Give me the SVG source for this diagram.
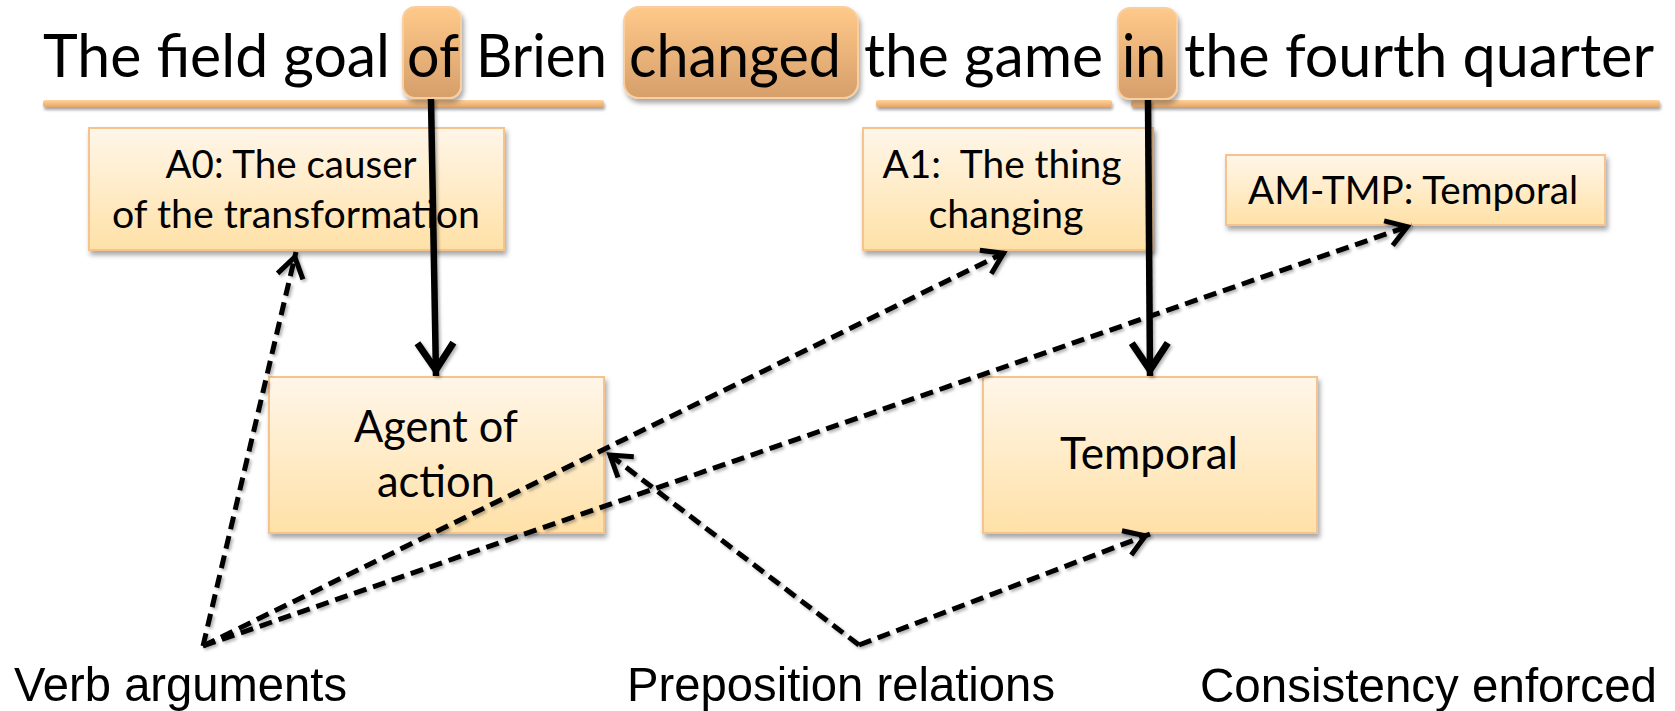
<svg xmlns="http://www.w3.org/2000/svg" width="1675" height="711" viewBox="0 0 1675 711">
  <style>
    .sent { font-family: Lato, "Open Sans", sans-serif; font-size: 60px; fill: #000; }
    .lbl { font-family: Lato, "Open Sans", sans-serif; font-size: 39px; fill: #000; }
    .big { font-family: Lato, "Open Sans", sans-serif; font-size: 44px; fill: #000; }
    .cap { font-family: "Liberation Sans", Arial, sans-serif; font-size: 49px; fill: #000; }
    .node { fill: url(#nodeFill); stroke: #F5C38E; stroke-width: 2; filter: url(#boxShadow); }
    .hl { fill: url(#hlFill); stroke: #F9CFA0; stroke-width: 2; filter: url(#boxShadow); }
    .bar { fill: url(#barFill); filter: url(#barShadow); }
    .solid { fill: none; stroke: #000; stroke-width: 6.5; marker-end: url(#solidHead); }
    .dash { fill: none; stroke: #000; stroke-width: 5; stroke-dasharray: 13 7; marker-end: url(#dashHead); }
  </style>
  <defs>
    <linearGradient id="nodeFill" x1="0" y1="0" x2="0" y2="1">
      <stop offset="0" stop-color="#FFF6E9"/>
      <stop offset="1" stop-color="#FFE1A7"/>
    </linearGradient>
    <linearGradient id="hlFill" x1="0" y1="0" x2="0" y2="1">
      <stop offset="0" stop-color="#FFC98A"/>
      <stop offset="1" stop-color="#D69F6B"/>
    </linearGradient>
    <linearGradient id="barFill" x1="0" y1="0" x2="0" y2="1">
      <stop offset="0" stop-color="#FFD39E"/>
      <stop offset="1" stop-color="#E8A666"/>
    </linearGradient>
    <filter id="boxShadow" x="-10%" y="-10%" width="125%" height="135%">
      <feDropShadow dx="2" dy="4" stdDeviation="2.5" flood-color="#000" flood-opacity="0.35"/>
    </filter>
    <filter id="barShadow" x="-5%" y="-100%" width="110%" height="400%">
      <feDropShadow dx="1" dy="3" stdDeviation="1.5" flood-color="#000" flood-opacity="0.35"/>
    </filter>
    <filter id="lineShadow" x="-10%" y="-10%" width="120%" height="120%">
      <feDropShadow dx="2" dy="2" stdDeviation="1.5" flood-color="#000" flood-opacity="0.3"/>
    </filter>
    <marker id="solidHead" markerUnits="userSpaceOnUse" orient="auto" markerWidth="80" markerHeight="80" viewBox="-40 -40 80 80" refX="0" refY="0" overflow="visible">
      <path d="M-33,-18 L-6,0 L-33,18" fill="none" stroke="#000" stroke-width="7" stroke-linejoin="miter"/>
    </marker>
    <marker id="dashHead" markerUnits="userSpaceOnUse" orient="auto" markerWidth="60" markerHeight="60" viewBox="-30 -30 60 60" refX="0" refY="0" overflow="visible">
      <path d="M-25,-13 L-5,0 L-25,13" fill="none" stroke="#000" stroke-width="5" stroke-linejoin="miter"/>
    </marker>
  </defs>

  <!-- sentence with span underlines and highlighted predicate / prepositions -->
  <g id="sentence">
    <rect class="bar" x="43" y="100" width="561" height="7" rx="2"/>
    <rect class="bar" x="876" y="100" width="236" height="7" rx="2"/>
    <rect class="bar" x="1131" y="100" width="529" height="7" rx="2"/>
    <rect class="hl" x="403" y="7" width="58" height="91" rx="12"/>
    <rect class="hl" x="624" y="7" width="234" height="91" rx="15"/>
    <rect class="hl" x="1118" y="8" width="59" height="91" rx="12"/>
    <text class="sent" x="43" y="77" textLength="347" lengthAdjust="spacingAndGlyphs">The field goal</text>
    <text class="sent" x="407" y="77" textLength="52" lengthAdjust="spacingAndGlyphs">of</text>
    <text class="sent" x="476" y="77" textLength="131" lengthAdjust="spacingAndGlyphs">Brien</text>
    <text class="sent" x="629" y="77" textLength="212" lengthAdjust="spacingAndGlyphs">changed</text>
    <text class="sent" x="864" y="77" textLength="239" lengthAdjust="spacingAndGlyphs">the game</text>
    <text class="sent" x="1122" y="77" textLength="44" lengthAdjust="spacingAndGlyphs">in</text>
    <text class="sent" x="1184" y="77" textLength="470" lengthAdjust="spacingAndGlyphs">the fourth quarter</text>
  </g>

  <!-- verb argument labels -->
  <g id="node-a0">
    <rect class="node" x="89" y="128" width="415" height="122"/>
    <text class="lbl" x="291" y="178" text-anchor="middle" textLength="251" lengthAdjust="spacingAndGlyphs">A0: The causer</text>
    <text class="lbl" x="296" y="228" text-anchor="middle" textLength="368" lengthAdjust="spacingAndGlyphs">of the transformation</text>
  </g>
  <g id="node-a1">
    <rect class="node" x="863" y="128" width="290" height="122"/>
    <text class="lbl" x="1002" y="178" text-anchor="middle" textLength="239" lengthAdjust="spacingAndGlyphs" xml:space="preserve">A1:  The thing</text>
    <text class="lbl" x="1006" y="228" text-anchor="middle" textLength="155" lengthAdjust="spacingAndGlyphs">changing</text>
  </g>
  <g id="node-amtmp">
    <rect class="node" x="1226" y="155" width="379" height="70"/>
    <text class="lbl" x="1413" y="204" text-anchor="middle" textLength="330" lengthAdjust="spacingAndGlyphs">AM-TMP: Temporal</text>
  </g>

  <!-- preposition relation labels -->
  <g id="node-agent">
    <rect class="node" x="269" y="377" width="335" height="156"/>
    <text class="big" x="436" y="442" text-anchor="middle" textLength="164" lengthAdjust="spacingAndGlyphs">Agent of</text>
    <text class="big" x="436" y="497" text-anchor="middle" textLength="118" lengthAdjust="spacingAndGlyphs">action</text>
  </g>
  <g id="node-temporal">
    <rect class="node" x="983" y="377" width="334" height="156"/>
    <text class="big" x="1149" y="469" text-anchor="middle" textLength="178" lengthAdjust="spacingAndGlyphs">Temporal</text>
  </g>

  <!-- captions -->
  <g id="caption-verb">
    <text class="cap" x="14" y="701" textLength="333" lengthAdjust="spacingAndGlyphs">Verb arguments</text>
  </g>
  <g id="caption-prep">
    <text class="cap" x="627" y="701" textLength="428" lengthAdjust="spacingAndGlyphs">Preposition relations</text>
  </g>
  <g id="caption-consistency">
    <text class="cap" x="1200" y="702" textLength="457" lengthAdjust="spacingAndGlyphs">Consistency enforced</text>
  </g>

  <!-- connectors -->
  <g id="connectors" filter="url(#lineShadow)">
    <line class="solid" x1="431" y1="99" x2="436" y2="376"/>
    <line class="solid" x1="1148" y1="100" x2="1150" y2="376"/>
    <line class="dash" x1="203" y1="646" x2="296" y2="252"/>
    <line class="dash" x1="203" y1="646" x2="1008" y2="251"/>
    <line class="dash" x1="203" y1="646" x2="1412" y2="225"/>
    <line class="dash" x1="859" y1="645" x2="606" y2="452"/>
    <line class="dash" x1="859" y1="645" x2="1150" y2="534"/>
  </g>
</svg>
